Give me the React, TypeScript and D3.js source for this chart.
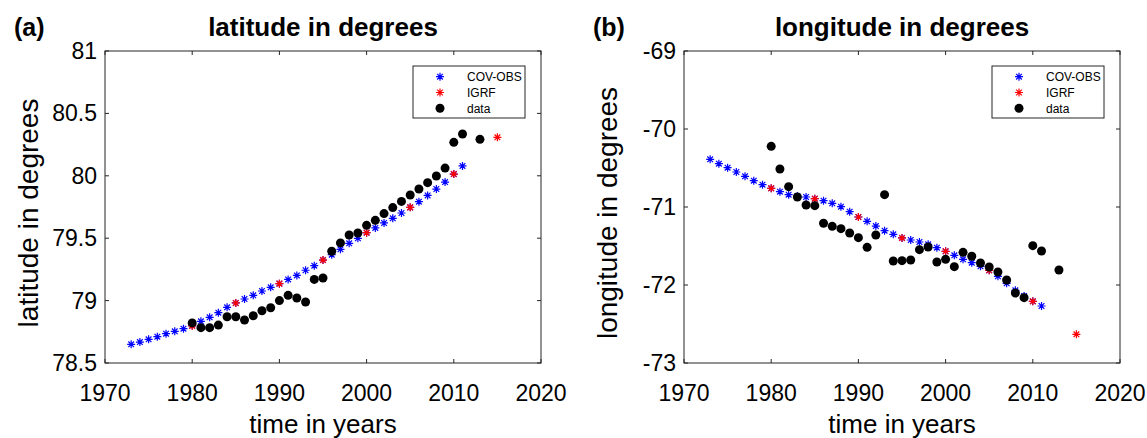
import React from 'react';
import * as d3 from 'd3';

// data
const covYears = d3.range(1973, 2012);
const covLat = [78.65, 78.668, 78.69, 78.711, 78.735, 78.754, 78.775, 78.80, 78.834, 78.866,
  78.903, 78.946, 78.981, 79.013, 79.042, 79.077, 79.106, 79.136, 79.17, 79.202,
  79.243, 79.28, 79.325, 79.368, 79.411, 79.459, 79.499, 79.544, 79.582, 79.622,
  79.659, 79.702, 79.747, 79.793, 79.843, 79.894, 79.95, 80.014, 80.079];
const covLon = [-70.389, -70.444, -70.496, -70.551, -70.607, -70.662, -70.714, -70.761, -70.803, -70.842,
  -70.862, -70.872, -70.893, -70.919, -70.953, -70.996, -71.06, -71.128, -71.184, -71.244,
  -71.303, -71.35, -71.397, -71.423, -71.449, -71.479, -71.521, -71.568, -71.62, -71.671,
  -71.714, -71.761, -71.812, -71.889, -71.979, -72.068, -72.141, -72.209, -72.269];

const igrfYears = [1980, 1985, 1990, 1995, 2000, 2005, 2010, 2015];
const igrfLat = [78.797, 78.981, 79.136, 79.325, 79.544, 79.747, 80.014, 80.308];
const igrfLon = [-70.761, -70.893, -71.128, -71.397, -71.568, -71.812, -72.209, -72.632];

const dataYears = [...d3.range(1980, 2012), 2013];
const dataLat = [78.821, 78.783, 78.783, 78.804, 78.871, 78.871, 78.845, 78.879, 78.919, 78.943,
  79.0, 79.042, 79.021, 78.989, 79.17, 79.181, 79.395, 79.462, 79.526, 79.542,
  79.603, 79.643, 79.697, 79.745, 79.795, 79.846, 79.894, 79.945, 79.998, 80.062,
  80.268, 80.335, 80.292];
const dataLon = [-70.222, -70.513, -70.739, -70.872, -70.974, -70.983, -71.209, -71.248, -71.278, -71.333,
  -71.393, -71.517, -71.359, -70.842, -71.692, -71.688, -71.679, -71.547, -71.513, -71.705,
  -71.671, -71.765, -71.581, -71.632, -71.718, -71.769, -71.833, -71.936, -72.103, -72.162,
  -71.496, -71.564, -71.808];

const xTicks = [1970, 1980, 1990, 2000, 2010, 2020];
const latTicks = [78.5, 79, 79.5, 80, 80.5, 81];
const lonTicks = [-73, -72, -71, -70, -69];
const legendLabels = ['COV-OBS', 'IGRF', 'data'];

const FONT = '"Liberation Sans", Arial, Helvetica, sans-serif';
const AXIS = '#262626';

const star = (r: number) => {
  const d = r * Math.SQRT1_2;
  return `M${-r},0L${r},0M0,${-r}L0,${r}M${-d},${-d}L${d},${d}M${-d},${d}L${d},${-d}`;
};

type PanelProps = {
  left: number; tag: string; title: string; ylabel: string;
  yDomain: [number, number]; yTicks: number[];
  cov: number[]; igrf: number[]; dat: number[];
};

function Panel({ left, tag, title, ylabel, yDomain, yTicks, cov, igrf, dat }: PanelProps) {
  const top = 51, w = 436, h = 312;
  const x = d3.scaleLinear().domain([1970, 2020]).range([0, w]);
  const y = d3.scaleLinear().domain(yDomain).range([h, 0]);
  const tk = 4;
  const lx = w - 16 - 112, ly = 15;
  const sr = 4;

  return (
    <g transform={`translate(${left},${top})`} fontFamily={FONT}>
      <text x={-91} y={-15} fontSize={25} fontWeight="bold">{tag}</text>
      <text x={w / 2} y={-15} fontSize={26} fontWeight="bold" textAnchor="middle">{title}</text>

      {cov.map((v, i) => (
        <path key={'c' + i} d={star(sr)} transform={`translate(${x(covYears[i])},${y(v)})`}
          stroke="#0000ff" strokeWidth={1.2} fill="none" />
      ))}
      {igrf.map((v, i) => (
        <path key={'g' + i} d={star(sr)} transform={`translate(${x(igrfYears[i])},${y(v)})`}
          stroke="#ff0000" strokeWidth={1.2} fill="none" />
      ))}
      {dat.map((v, i) => (
        <circle key={'d' + i} cx={x(dataYears[i])} cy={y(v)} r={4.5} fill="#000" />
      ))}

      <rect x={0} y={0} width={w} height={h} fill="none" stroke={AXIS} strokeWidth={1} />
      {xTicks.map(t => (
        <g key={'x' + t}>
          <line x1={x(t)} x2={x(t)} y1={h} y2={h - tk} stroke={AXIS} />
          <line x1={x(t)} x2={x(t)} y1={0} y2={tk} stroke={AXIS} />
          <text x={x(t)} y={h + 38} fontSize={23} textAnchor="middle" fill="#000">{t}</text>
        </g>
      ))}
      {yTicks.map(t => (
        <g key={'y' + t}>
          <line x1={0} x2={tk} y1={y(t)} y2={y(t)} stroke={AXIS} />
          <line x1={w} x2={w - tk} y1={y(t)} y2={y(t)} stroke={AXIS} />
          <text x={-8} y={y(t) + 8} fontSize={23} textAnchor="end" fill="#000">{t}</text>
        </g>
      ))}

      <text x={w / 2} y={h + 70} fontSize={26} textAnchor="middle">time in years</text>
      <text transform={`translate(${-67},${162}) rotate(-90)`} fontSize={28} textAnchor="middle">{ylabel}</text>

      <g transform={`translate(${lx},${ly})`}>
        <rect x={0} y={0} width={112} height={52} fill="#fff" stroke={AXIS} strokeWidth={1} />
        {legendLabels.map((lab, i) => (
          <g key={lab} transform={`translate(0,${10.7 + i * 15.8})`}>
            {i < 2
              ? <path d={star(sr)} transform="translate(27,0)" stroke={i === 0 ? '#0000ff' : '#ff0000'} strokeWidth={1.2} fill="none" />
              : <circle cx={27} cy={0} r={4.5} fill="#000" />}
            <text x={54} y={4.5} fontSize={12}>{lab}</text>
          </g>
        ))}
      </g>
    </g>
  );
}

export default function App() {
  return (
    <svg width={1147} height={438} style={{ position: 'absolute', left: 0, top: 0, background: '#fff' }}>
      <rect width={1147} height={438} fill="#fff" />
      <Panel left={105} tag="(a)" title="latitude in degrees" ylabel="latitude in degrees"
        yDomain={[78.5, 81]} yTicks={latTicks} cov={covLat} igrf={igrfLat} dat={dataLat} />
      <Panel left={684} tag="(b)" title="longitude in degrees" ylabel="longitude in degrees"
        yDomain={[-73, -69]} yTicks={lonTicks} cov={covLon} igrf={igrfLon} dat={dataLon} />
    </svg>
  );
}
